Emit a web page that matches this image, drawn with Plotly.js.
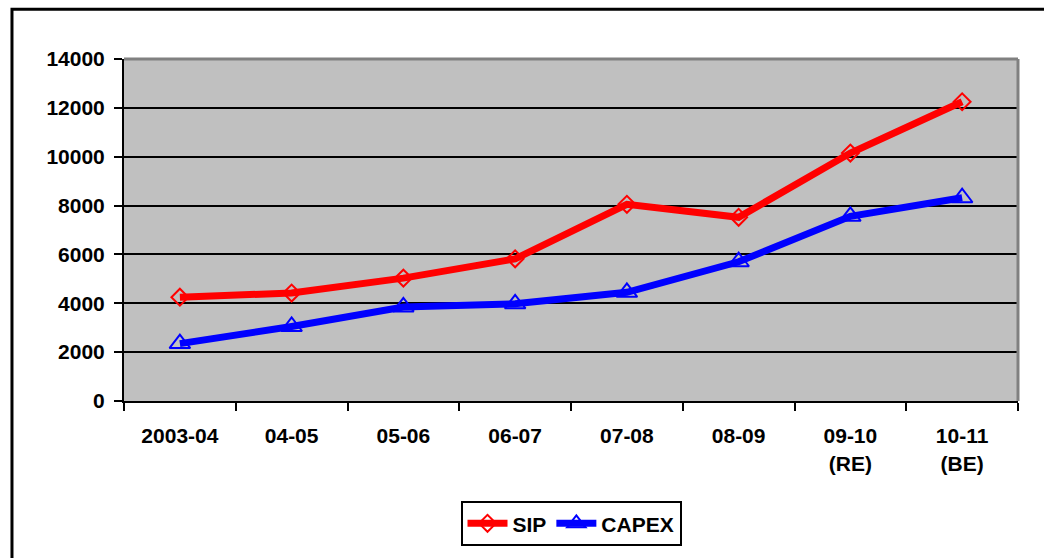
<!DOCTYPE html>
<html>
<head>
<meta charset="utf-8">
<script src="https://cdn.plot.ly/plotly-3.0.1.min.js"></script>
<style>html,body{margin:0;padding:0;background:#fff;}#chart{width:1044px;height:558px;}</style>
</head>
<body>
<div id="chart"></div>
<script>
const categories = ["2003-04", "04-05", "05-06", "06-07", "07-08", "08-09", "09-10<br>(RE)", "10-11<br>(BE)"];
const sip = [4250, 4420, 5030, 5820, 8050, 7520, 10150, 12250];
const capex = [2350, 3050, 3850, 3980, 4450, 5700, 7560, 8320];
const yTicks = [0, 2000, 4000, 6000, 8000, 10000, 12000, 14000];

const font = {family: "Liberation Sans, Arial, sans-serif", size: 21, color: "#000"};

const traces = [
  {x: categories, y: sip, name: "SIP", type: "scatter", mode: "lines+markers",
   line: {color: "#FF0000", width: 7},
   marker: {symbol: "diamond-open", size: 13, color: "#FF0000", line: {color: "#FF0000", width: 2}}},
  {x: categories, y: capex, name: "CAPEX", type: "scatter", mode: "lines+markers",
   line: {color: "#0000FF", width: 7},
   marker: {symbol: "triangle-up-open", size: 18, color: "#0000FF", line: {color: "#0000FF", width: 2}}}
];

const layout = {
  width: 1044, height: 558,
  margin: {l: 124, r: 26, t: 59, b: 155},
  paper_bgcolor: "#FFFFFF",
  plot_bgcolor: "#C0C0C0",
  font: font,
  showlegend: true,
  legend: {orientation: "h", x: 0.5, xanchor: "center", y: -0.293, yanchor: "top",
           bordercolor: "#000", borderwidth: 2, bgcolor: "#fff",
           font: {family: font.family, size: 21, color: "#000", weight: "bold"},
           itemwidth: 40, tracegroupgap: 0},
  xaxis: {type: "category", range: [-0.5, 7.5], showgrid: false, zeroline: false,
          showline: true, linecolor: "#000", linewidth: 2,
          ticks: "outside", tickson: "boundaries", ticklen: 8, tickwidth: 2, tickcolor: "#000",
          tickfont: {family: font.family, size: 21, color: "#000", weight: "bold"},
          ticklabelstandoff: 15, fixedrange: true},
  yaxis: {range: [0, 14000], tickvals: yTicks, ticktext: yTicks.map(String),
          showgrid: true, gridcolor: "#000", gridwidth: 2, zeroline: false,
          showline: true, linecolor: "#000", linewidth: 2,
          ticks: "outside", ticklen: 8, tickwidth: 2, tickcolor: "#000",
          tickfont: {family: font.family, size: 21, color: "#000", weight: "bold"},
          ticklabelstandoff: 5, fixedrange: true},
  shapes: [
    {type: "line", xref: "paper", yref: "paper", x0: 0, x1: 1, y0: 1, y1: 1,
     line: {color: "#808080", width: 3}, layer: "above"},
    {type: "line", xref: "paper", yref: "paper", x0: 1, x1: 1, y0: 0, y1: 1,
     line: {color: "#808080", width: 3}, layer: "above"},
    {type: "rect", xref: "paper", yref: "paper", x0: -0.1253, x1: 1.1, y0: -0.5, y1: 1.1453,
     line: {color: "#000", width: 3}, layer: "above"}
  ]
};

Plotly.newPlot("chart", traces, layout, {displayModeBar: false, staticPlot: true});
</script>
</body>
</html>
